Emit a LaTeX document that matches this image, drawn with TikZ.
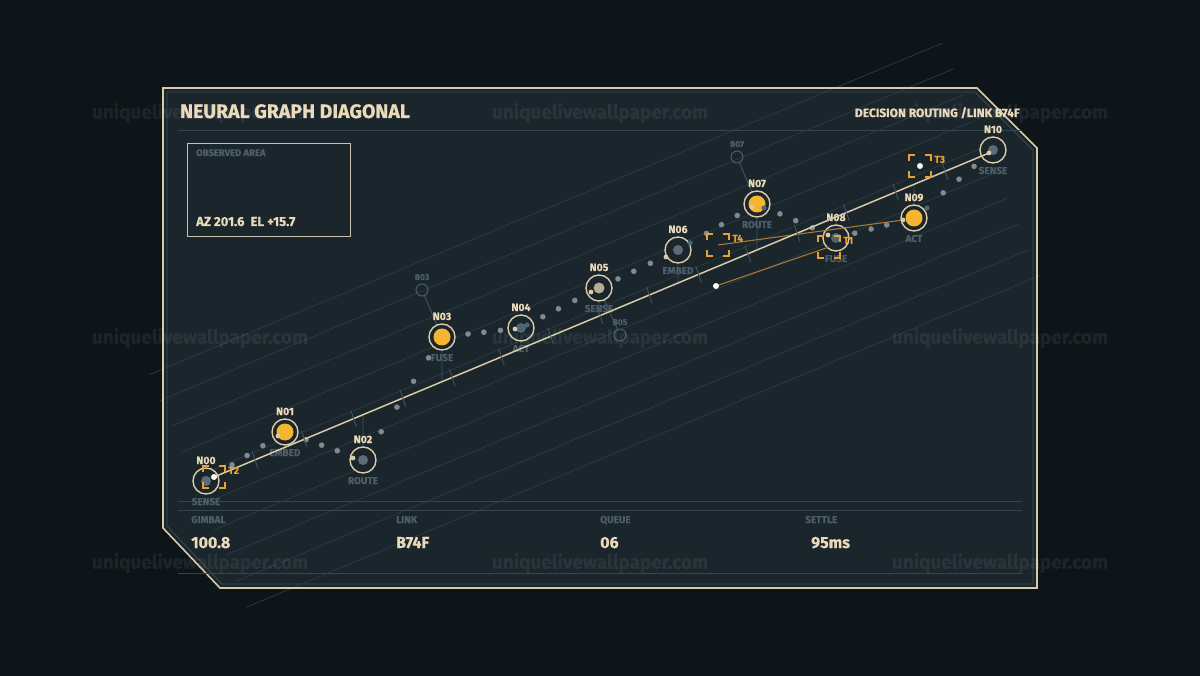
\documentclass[tikz,border=0pt]{standalone}
\usepackage{fontspec}
\setmainfont{Fira Sans}[BoldFeatures={FakeBold=0.6}]
\usetikzlibrary{calc}
\definecolor{bgout}{HTML}{0D1519}
\definecolor{panel}{HTML}{1A252C}
\definecolor{beige}{HTML}{D9CAA8}
\definecolor{btext}{HTML}{EBDABA}
\definecolor{innerc}{HTML}{3A4D57}
\definecolor{rulec}{HTML}{33454E}
\definecolor{slate}{HTML}{4B5E69}
\definecolor{slatel}{HTML}{3F545F}
\definecolor{yel}{HTML}{F6B52E}
\definecolor{org}{HTML}{EDA032}
\definecolor{orgl}{HTML}{A8763A}
\definecolor{dotg}{HTML}{5C6C76}
\definecolor{dotb}{HTML}{4E6575}
\definecolor{dots}{HTML}{B5AB97}
\definecolor{chainc}{HTML}{7E8A90}
\definecolor{bgl}{HTML}{2C3C45}
\definecolor{obsc}{HTML}{C9C3AE}
\tikzset{
  ring/.style={circle, draw=beige, line width=1.4pt, fill=panel, minimum size=26pt, inner sep=0pt},
  bnode/.style={circle, draw=slate, line width=1pt, minimum size=12pt, inner sep=0pt},
  nlab/.style={anchor=base, text=btext, font=\bfseries\fontsize{10.5}{11}\selectfont, inner sep=0pt},
  ulab/.style={anchor=base, text=slate, font=\bfseries\fontsize{10}{11}\selectfont, inner sep=0pt},
  blab/.style={anchor=base, text=slate, font=\bfseries\fontsize{8.5}{9}\selectfont, inner sep=0pt},
  tlab/.style={anchor=base west, text=org, font=\bfseries\fontsize{10}{11}\selectfont, inner sep=0pt},
  bracket/.style={minimum size=22pt, inner sep=0pt},
  brk/.style={draw=org, line width=1.5pt},
  chain/.style={fill=chainc},
  trace/.style={draw=beige, line width=1.5pt},
  tick/.style={draw=slatel, line width=0.9pt},
  vline/.style={draw=slatel, line width=0.9pt},
  olink/.style={draw=orgl, line width=1.1pt},
  port/.style={fill=beige},
  wdot/.style={fill=white!90!beige},
  bgline/.style={draw=bgl, line width=0.7pt},
  rule/.style={draw=rulec, line width=1pt},
  flab/.style={anchor=base west, text=slate, font=\bfseries\fontsize{10}{11}\selectfont, inner sep=0pt},
  fval/.style={anchor=base west, text=btext, font=\bfseries\fontsize{16}{17}\selectfont, inner sep=0pt},
  wm/.style={text=white, opacity=0.065, font=\bfseries\fontsize{19}{20}\selectfont, inner sep=0pt},
}
\newcommand\brkcorners[1]{%
  \draw[brk] ($(#1.north west)+(0,6)$) -- (#1.north west) -- ++(6,0);
  \draw[brk] ($(#1.north east)+(-6,0)$) -- (#1.north east) -- ++(0,6);
  \draw[brk] ($(#1.south east)+(0,-6)$) -- (#1.south east) -- ++(-6,0);
  \draw[brk] ($(#1.south west)+(6,0)$) -- (#1.south west) -- ++(0,-6);
}
\begin{document}
\begin{tikzpicture}[x=1pt,y=-1pt]
\useasboundingbox (0,0) rectangle (1200,676);
\fill[bgout] (0,0) rectangle (1200,676);
% panel
\fill[panel] (163,88) -- (977,88) -- (1037,148) -- (1037,588) -- (220,588) -- (163,528) -- cycle;
% background diagonal lines
\coordinate (C) at (600,338);
\foreach \d in {-140,-112,...,115} {
  \draw[bgline] ($(C)+(0.3857*\d,0.9226*\d)+(-0.9226*430,0.3857*430)$) -- ($(C)+(0.3857*\d,0.9226*\d)+(0.9226*430,-0.3857*430)$);
}
% border
\draw[beige, line width=1.6pt] (163,88) -- (977,88) -- (1037,148) -- (1037,588) -- (220,588) -- (163,528) -- cycle;
\draw[innerc, line width=0.8pt] (167,92) -- (975,92) -- (1033,150) -- (1033,584) -- (222,584) -- (167,526) -- cycle;
% rules
\draw[rule] (178,131) -- (1022,131);
\draw[rule] (178,501) -- (1022,501);
\draw[rule] (178,510) -- (1022,510);
\draw[rule] (178,573) -- (1022,573);
% header
\node[anchor=base west, text=btext, font=\bfseries\fontsize{19.5}{20}\selectfont, inner sep=0pt] (title) at (180,118) {NEURAL GRAPH DIAGONAL};
\node[anchor=base east, text=btext, font=\bfseries\fontsize{12}{13}\selectfont, inner sep=0pt] (sub) at (1020,117) {DECISION ROUTING /LINK B74F};
% observed area
\node[draw=obsc, line width=1.2pt, minimum width=163pt, minimum height=93pt, anchor=north west, inner sep=0pt] (obs) at (187,143) {};
\node[anchor=base west, text=slate, font=\bfseries\fontsize{9.5}{10}\selectfont, inner sep=0pt] (obsl) at (196,156) {OBSERVED AREA};
\node[anchor=base west, text=btext, font=\bfseries\fontsize{13}{14}\selectfont, inner sep=0pt] (azel) at (196,226) {AZ 201.6\ \ EL +15.7};
% footer
\node[flab] (f1) at (191,523) {GIMBAL};
\node[flab] (f2) at (396,523) {LINK};
\node[flab] (f3) at (600,523) {QUEUE};
\node[flab] (f4) at (805,523) {SETTLE};
\node[fval] (v1) at (191,548) {100.8};
\node[fval] (v2) at (396,548) {B74F};
\node[fval] (v3) at (600,548) {06};
\node[fval] (v4) at (811,548) {95ms};
% trace endpoints
\coordinate (ts) at (214,477);
\coordinate (te) at (989,153);
% nodes
\foreach \n/\x/\y in {00/206/481, 01/285/432, 02/363/460, 03/442/337, 04/521/328, 05/599/288, 06/678/250, 07/757/204, 08/836/238, 09/914/218, 10/993/150} {
  \coordinate (c\n) at (\x,\y);
}
% vertical links to trace
\foreach \n/\t in {01/0.0916, 02/0.1923, 03/0.2942, 04/0.3961, 05/0.4968, 06/0.5987, 07/0.7006, 08/0.8026, 09/0.9032} {
  \draw[vline] (c\n) -- ($(ts)!\t!(te)$);
}
% branch nodes
\node[bnode] (b03) at (422,290) {};
\node[bnode] (b05) at (620,335) {};
\node[bnode] (b07) at (737,157) {};
\draw[vline] (b03) -- (c03);
\draw[vline] (b05) -- (c05);
\draw[vline] (b07) -- (c07);
\node[blab] (lb03) at ($(b03)+(0,-10)$) {B03};
\node[blab] (lb05) at ($(b05)+(0,-10)$) {B05};
\node[blab] (lb07) at ($(b07)+(0,-10)$) {B07};
% chain dots
\foreach \a/\b/\t in {00/01/0.33, 00/01/0.52, 00/01/0.72,
  01/02/0.27, 01/02/0.47, 01/02/0.67,
  02/03/0.23, 02/03/0.43, 02/03/0.64, 02/03/0.83,
  03/04/0.33, 03/04/0.53, 03/04/0.74,
  04/05/0.28, 04/05/0.48, 04/05/0.69,
  05/06/0.24, 05/06/0.44, 05/06/0.65,
  06/07/0.36, 06/07/0.55, 06/07/0.75,
  07/08/0.29, 07/08/0.49, 07/08/0.70,
  08/09/0.24, 08/09/0.45, 08/09/0.65,
  09/10/0.37, 09/10/0.57, 09/10/0.76} {
  \fill[chain] ($(c\a)!\t!(c\b)$) circle[radius=2.8];
}
% main nodes
\foreach \n/\lab in {00/SENSE, 01/EMBED, 02/ROUTE, 03/FUSE, 04/ACT, 05/SENSE, 06/EMBED, 07/ROUTE, 08/FUSE, 09/ACT, 10/SENSE} {
  \node[ring] (n\n) at (c\n) {};
  \node[nlab] (ln\n) at ($(c\n)+(0,-17)$) {N\n};
  \node[ulab] (un\n) at ($(c\n)+(0,24)$) {\lab};
}
\foreach \n in {00,02,06,10} { \fill[dotg] (n\n) circle[radius=5]; }
\foreach \n in {04,08} { \fill[dotb] (n\n) circle[radius=5]; }
\fill[dots] (n05) circle[radius=5.5];
\foreach \n in {01,03,07,09} { \fill[yel] (n\n) circle[radius=8.5]; }
% inner bluish dots
\fill[dotb] ($(n04)+(6,-3)$) circle[radius=2.6];
\fill[dotb] ($(n06)+(12,-7)$) circle[radius=2.6];
\fill[dotb] ($(n07)+(7,4)$) circle[radius=2.6];
\fill[dotb] ($(n09)+(13,-10)$) circle[radius=2.6];
% ports
\foreach \n/\dx/\dy in {01/-7/4, 02/-10/-2, 04/-6/1, 05/-8/4, 06/-12/7, 07/-5/3, 08/-8/-3} {
  \fill[port] ($(n\n)+(\dx,\dy)$) circle[radius=2.4];
}
\coordinate (p09) at (903,220);
\coordinate (p10) at (989,153);
% brackets
\node[bracket] (t2) at (214,477) {};
\node[bracket] (t4) at (718,245) {};
\node[bracket] (t1) at (829,247) {};
\node[bracket] (t3) at (920,166) {};
% orange links
\coordinate (w1) at (716,286);
\draw[olink] (t4.center) -- (p09);
\draw[olink] (w1) -- (t1.center);
% trace
\draw[trace] (t2.center) -- (p10);
\foreach \k in {0,...,14} {
  \pgfmathsetmacro\tt{0.0529+0.0636*\k}
  \draw[tick] ($(ts)!\tt!(te)$) ++(-2.8,-8.3) -- ++(5.6,16.6);
}
\fill[port] (p09) circle[radius=2.4];
\fill[port] (p10) circle[radius=2.4];
\fill[wdot] (t2.center) circle[radius=3];
\fill[wdot] (t3.center) circle[radius=3];
\fill[wdot] (w1) circle[radius=3];
\brkcorners{t2}
\brkcorners{t4}
\brkcorners{t1}
\brkcorners{t3}
\node[tlab] (lt2) at ($(t2.north east)+(3,8)$) {T2};
\node[tlab] (lt4) at ($(t4.north east)+(3,8)$) {T4};
\node[tlab] (lt1) at ($(t1.north east)+(3,8)$) {T1};
\node[tlab] (lt3) at ($(t3.north east)+(3,8)$) {T3};
% watermark
\foreach \wx in {200,600,1000} { \foreach \wy in {113,338,563} {
  \node[wm] at (\wx,\wy) {uniquelivewallpaper.com};
}}
\end{tikzpicture}
\end{document}
